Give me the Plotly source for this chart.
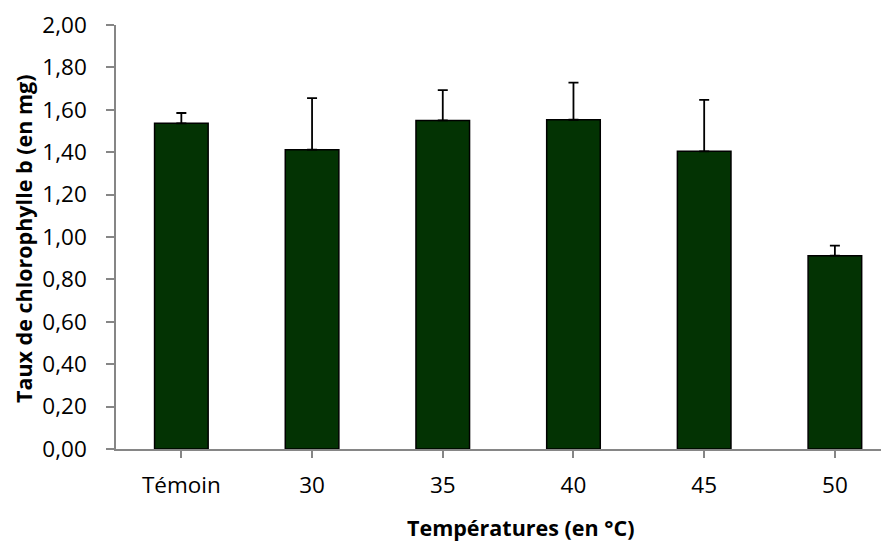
import plotly.graph_objects as go

categories = ["Témoin", "30", "35", "40", "45", "50"]
values = [1.536, 1.412, 1.550, 1.553, 1.404, 0.912]
errors = [0.049, 0.243, 0.143, 0.175, 0.243, 0.047]
ytick_vals = [0, 0.2, 0.4, 0.6, 0.8, 1.0, 1.2, 1.4, 1.6, 1.8, 2.0]
ytick_text = ["0,00", "0,20", "0,40", "0,60", "0,80", "1,00", "1,20", "1,40", "1,60", "1,80", "2,00"]
x_title = "Températures (en °C)"
y_title = "Taux de chlorophylle b (en mg)"

font_family = "Open Sans, Liberation Sans, sans-serif"

# page body has an 8px margin; compensate
W, H = 881, 537
L, T, B = 108, 17, 96
plot_w = W - L
plot_h = H - T - B

fig = go.Figure(
    go.Bar(
        x=list(range(len(categories))),
        y=values,
        width=0.41,
        marker=dict(color="#033303", line=dict(color="#000000", width=1.5)),
        error_y=dict(
            type="data", symmetric=False, array=errors,
            arrayminus=[0] * len(errors),
            color="#000000", thickness=1.8, width=5,
        ),
    )
)

fig.update_layout(
    width=W, height=H,
    margin=dict(l=L, r=0, t=T, b=B, pad=0),
    paper_bgcolor="white", plot_bgcolor="white",
    showlegend=False,
    font=dict(family=font_family, size=22, color="#000000"),
    annotations=[
        dict(text="<b>" + x_title + "</b>", xref="paper", yref="paper",
             x=(512 - L) / plot_w, y=-(519 - (T + plot_h)) / plot_h,
             xanchor="center", yanchor="middle", showarrow=False,
             font=dict(size=21.5, family=font_family)),
        dict(text="<b>" + y_title + "</b>", xref="paper", yref="paper",
             x=(15 - L) / plot_w, y=((T + plot_h) - 231) / plot_h,
             xanchor="center", yanchor="middle", showarrow=False, textangle=-90,
             font=dict(size=21.5, family=font_family)),
    ],
)

fig.update_xaxes(
    range=[-0.5, 5.414],
    tickmode="array",
    tickvals=list(range(len(categories))),
    ticktext=categories,
    showline=True, linecolor="#868686", linewidth=1.5,
    ticks="outside", ticklen=7, tickcolor="#868686", tickwidth=1.5,
    tickson="boundaries",
    showgrid=False, zeroline=False,
    tickfont=dict(size=22.5),
    ticklabelstandoff=8,
)

fig.update_yaxes(
    range=[0, 2.0],
    tickmode="array",
    tickvals=ytick_vals,
    ticktext=ytick_text,
    showline=True, linecolor="#868686", linewidth=1.5,
    ticks="outside", ticklen=8, tickcolor="#868686", tickwidth=1.5,
    showgrid=False, zeroline=False,
    tickfont=dict(size=22.5),
    ticklabelstandoff=15,
)

fig.write_html("out.html")
